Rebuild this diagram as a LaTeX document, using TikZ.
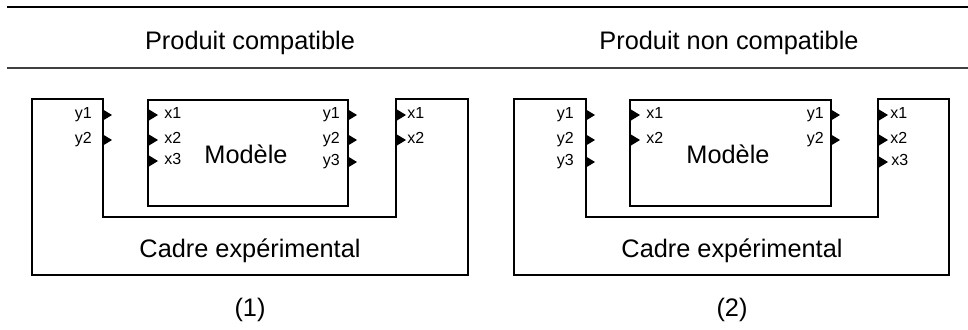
\documentclass[tikz,border=0pt]{standalone}
\usepackage{fontspec}
\setmainfont{Liberation Sans}
\begin{document}
\begin{tikzpicture}[x=0.75pt,y=-0.75pt,
  frameline/.style={line width=1.6pt},
  bigtxt/.style={font=\fontsize{19}{22}\selectfont, inner sep=0pt, anchor=base},
  lblw/.style={font=\fontsize{12}{14}\selectfont, inner sep=0pt, anchor=mid west},
  lble/.style={font=\fontsize{12}{14}\selectfont, inner sep=0pt, anchor=mid east},
  tri/.pic={\fill (0,-5.5) -- (9,0) -- (0,5.5) -- cycle;}]
\useasboundingbox (0,0) rectangle (968,329);
% rules
\coordinate (r1a) at (7,7);   \coordinate (r1b) at (968,7);
\coordinate (r2a) at (7,68);  \coordinate (r2b) at (968,68);
\draw[line width=1.7pt] (r1a) -- (r1b);
\draw[line width=1.1pt, black!75] (r2a) -- (r2b);
% titles
\node[bigtxt] (t1) at (250,49) {Produit compatible};
\node[bigtxt] (t2) at (729,49) {Produit non compatible};

% ---------- (1) ----------
\draw[frameline] (32,99) -- (103,99) -- (103,217) -- (396,217) -- (396,99) -- (468,99) -- (468,275) -- (32,275) -- cycle;
\draw[frameline] (148,100) rectangle (348,206);
\node[bigtxt] (m1) at (246,163) {Modèle};
\node[bigtxt] (c1) at (250,257) {Cadre expérimental};
\node[bigtxt] (n1) at (250,316) {(1)};
% cadre outputs
\pic at (103,115) {tri}; \node[lble] (c1y1) at (92,115) {y1};
\pic at (103,140) {tri}; \node[lble] (c1y2) at (92,140) {y2};
% model inputs
\pic at (149,115) {tri}; \node[lblw] (m1x1) at (164,115) {x1};
\pic at (149,140) {tri}; \node[lblw] (m1x2) at (164,140) {x2};
\pic at (149,161) {tri}; \node[lblw] (m1x3) at (164,161) {x3};
% model outputs
\pic at (348,115) {tri}; \node[lble] (m1y1) at (340,115) {y1};
\pic at (348,140) {tri}; \node[lble] (m1y2) at (340,140) {y2};
\pic at (348,162) {tri}; \node[lble] (m1y3) at (340,162) {y3};
% cadre inputs
\pic at (397,115) {tri}; \node[lblw] (c1x1) at (407,115) {x1};
\pic at (397,140) {tri}; \node[lblw] (c1x2) at (407,140) {x2};

% ---------- (2) ----------
\draw[frameline] (514,99) -- (586,99) -- (586,217) -- (878,217) -- (878,99) -- (949,99) -- (949,275) -- (514,275) -- cycle;
\draw[frameline] (630,100) rectangle (831,206);
\node[bigtxt] (m2) at (728,163) {Modèle};
\node[bigtxt] (c2) at (732,257) {Cadre expérimental};
\node[bigtxt] (n2) at (732,316) {(2)};
% cadre outputs
\pic at (586,115) {tri}; \node[lble] (c2y1) at (574,115) {y1};
\pic at (586,140) {tri}; \node[lble] (c2y2) at (574,140) {y2};
\pic at (586,162) {tri}; \node[lble] (c2y3) at (574,162) {y3};
% model inputs
\pic at (631,115) {tri}; \node[lblw] (m2x1) at (646,115) {x1};
\pic at (631,140) {tri}; \node[lblw] (m2x2) at (646,140) {x2};
% model outputs
\pic at (831,115) {tri}; \node[lble] (m2y1) at (824,115) {y1};
\pic at (831,140) {tri}; \node[lble] (m2y2) at (824,140) {y2};
% cadre inputs
\pic at (879,115) {tri}; \node[lblw] (c2x1) at (890,115) {x1};
\pic at (879,140) {tri}; \node[lblw] (c2x2) at (890,140) {x2};
\pic at (879,162) {tri}; \node[lblw] (c2x3) at (891,162) {x3};
\end{tikzpicture}
\end{document}
